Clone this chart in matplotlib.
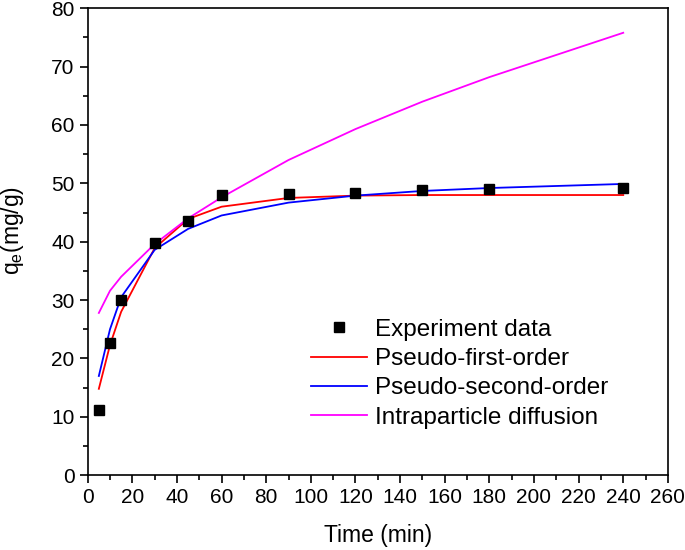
import matplotlib
matplotlib.use('Agg')
import matplotlib.pyplot as plt
from matplotlib.ticker import MultipleLocator

plt.rcParams['font.family'] = ['Liberation Sans', 'DejaVu Sans']

# data
time = [5, 10, 15, 30, 45, 60, 90, 120, 150, 180, 240]
qe_exp = [11.2, 22.6, 30.0, 39.8, 43.5, 48.0, 48.2, 48.4, 48.9, 49.1, 49.2]
qe_pfo = [14.8, 22.3, 28.0, 38.9, 43.9, 46.0, 47.5, 47.9, 48.0, 48.0, 48.0]
qe_pso = [17.0, 25.0, 30.5, 38.6, 42.2, 44.5, 46.7, 47.9, 48.7, 49.2, 49.9]
qe_ipd = [27.8, 31.6, 34.0, 39.6, 44.0, 47.6, 54.0, 59.3, 64.0, 68.2, 75.8]

fig = plt.figure(figsize=(6.85, 5.5), dpi=100)
ax = fig.add_axes([0.128, 0.136, 0.847, 0.849])

ax.plot(time, qe_exp, 's', color='black', markersize=7.5, label='Experiment data', zorder=3)
ax.plot(time, qe_pfo, color='red', lw=1.3, label='Pseudo-first-order')
ax.plot(time, qe_pso, color='blue', lw=1.3, label='Pseudo-second-order')
ax.plot(time, qe_ipd, color='magenta', lw=1.3, label='Intraparticle diffusion')

ax.set_xlim(0, 260)
ax.set_ylim(0, 80)
ax.xaxis.set_major_locator(MultipleLocator(20))
ax.xaxis.set_minor_locator(MultipleLocator(10))
ax.yaxis.set_major_locator(MultipleLocator(10))
ax.yaxis.set_minor_locator(MultipleLocator(5))
ax.tick_params(which='major', direction='out', length=6, width=1.2, labelsize=15)
ax.tick_params(which='minor', direction='out', length=3.5, width=1.2)
for s in ax.spines.values():
    s.set_linewidth(1.2)

ax.set_xlabel('Time (min)', fontsize=16.5, labelpad=12)
ax.set_ylabel(r'q$_\mathregular{e}$(mg/g)', fontsize=16.5)
ax.yaxis.set_label_coords(-0.107, 0.525)

ax.legend(loc='upper left', bbox_to_anchor=(0.385, 0.335), frameon=False, fontsize=17.5,
          borderpad=0, borderaxespad=0,
          handlelength=2.3, handletextpad=0.35, labelspacing=0.3)

fig.savefig('out.png', dpi=100)
